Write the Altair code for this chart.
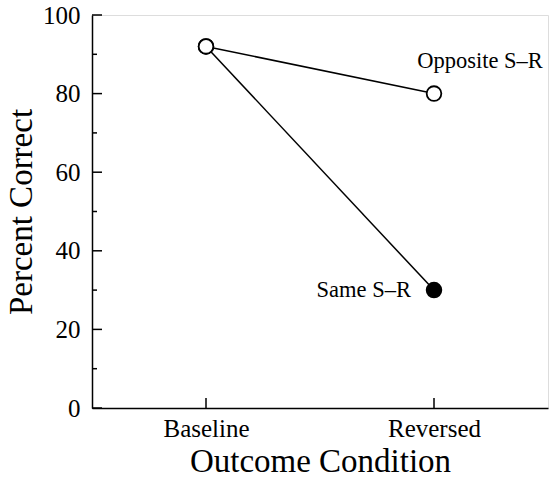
import altair as alt
import pandas as pd

conditions = ["Baseline", "Reversed"]
opposite_vals = [92, 80]
same_vals = [92, 30]
opposite_fill = ["open", "open"]
same_fill = ["open", "filled"]
major_ticks = [0, 20, 40, 60, 80, 100]
minor_ticks = [10, 30, 50, 70, 90]
series_names = ["Opposite S–R", "Same S–R"]

rows = []
for c, v, f in zip(conditions, opposite_vals, opposite_fill):
    rows.append({"series": series_names[0], "cond": c, "value": v, "marker": f})
for c, v, f in zip(conditions, same_vals, same_fill):
    rows.append({"series": series_names[1], "cond": c, "value": v, "marker": f})
df = pd.DataFrame(rows)

W, H = 456, 393
FONT = "Liberation Serif"

xscale = alt.Scale(type="point", domain=conditions, padding=0.5)
yscale = alt.Scale(domain=[0, 100], nice=False)

x_enc = alt.X("cond:N", scale=xscale, sort=conditions,
              axis=alt.Axis(title="Outcome Condition", ticks=False, labelAngle=0,
                            labelFont=FONT, labelFontSize=25, labelColor="black",
                            labelPadding=8, titleFont=FONT, titleFontSize=33,
                            titleFontWeight="normal", titleColor="black", titlePadding=4,
                            domainColor="black", domainWidth=1.5, grid=False))
y_enc = alt.Y("value:Q", scale=yscale,
              axis=alt.Axis(title="Percent Correct", ticks=False, values=major_ticks,
                            labelFont=FONT, labelFontSize=25, labelColor="black",
                            labelPadding=12, titleFont=FONT, titleFontSize=33,
                            titleFontWeight="normal", titleColor="black", titlePadding=4,
                            domainColor="black", domainWidth=1.5, grid=False))

lines = alt.Chart(df).mark_line(color="black", strokeWidth=1.5).encode(
    x=x_enc, y=y_enc, detail="series:N")

points = alt.Chart(df).mark_point(shape="circle", size=215, strokeWidth=1.8,
                                  stroke="black", opacity=1, filled=True).encode(
    x=alt.X("cond:N", scale=xscale),
    y=alt.Y("value:Q", scale=yscale),
    fill=alt.Fill("marker:N", scale=alt.Scale(domain=["open", "filled"],
                                              range=["white", "black"]), legend=None))

lab_df = pd.DataFrame({"series": series_names,
                       "cond": ["Reversed", "Reversed"],
                       "value": [opposite_vals[1], same_vals[1]]})

lab_opp = alt.Chart(lab_df[lab_df.series == series_names[0]]).mark_text(
    font=FONT, fontSize=22.5, align="center", baseline="middle", dx=46, dy=-33,
    color="black").encode(x=alt.X("cond:N", scale=xscale), y=alt.Y("value:Q", scale=yscale),
                          text="series:N")
lab_same = alt.Chart(lab_df[lab_df.series == series_names[1]]).mark_text(
    font=FONT, fontSize=22.5, align="right", baseline="middle", dx=-23, dy=0,
    color="black").encode(x=alt.X("cond:N", scale=xscale), y=alt.Y("value:Q", scale=yscale),
                          text="series:N")

maj_df = pd.DataFrame({"value": major_ticks})
min_df = pd.DataFrame({"value": minor_ticks})
ytick_major = alt.Chart(maj_df).mark_rule(color="black", strokeWidth=1.5).encode(
    x=alt.value(0), x2=alt.value(10), y=alt.Y("value:Q", scale=yscale))
ytick_minor = alt.Chart(min_df).mark_rule(color="black", strokeWidth=1.5).encode(
    x=alt.value(0), x2=alt.value(5), y=alt.Y("value:Q", scale=yscale))
xt_df = pd.DataFrame({"cond": conditions})
xticks = alt.Chart(xt_df).mark_rule(color="black", strokeWidth=1.5).encode(
    x=alt.X("cond:N", scale=xscale), y=alt.value(H), y2=alt.value(H - 10))

chart = alt.layer(lines, ytick_major, ytick_minor, xticks, points, lab_opp, lab_same).properties(
    width=W, height=H,
    padding={"left": 92, "top": 15, "right": 2, "bottom": 73},
    autosize=alt.AutoSizeParams(type="none"),
).configure_view(stroke=None).configure(background="white")

chart.save("out.html", embed_options={"renderer": "svg", "actions": False})
